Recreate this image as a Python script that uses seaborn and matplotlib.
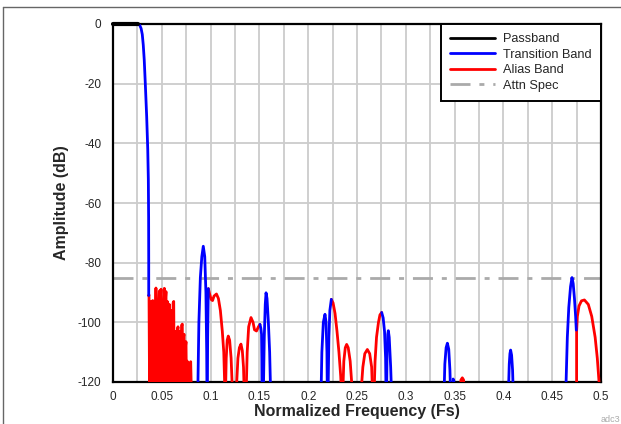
import numpy as np
import pandas as pd
import seaborn as sns
import matplotlib
matplotlib.use("Agg")
import matplotlib.pyplot as plt
from matplotlib.lines import Line2D

# ---------------- data ----------------
x_ticks = [0, 0.05, 0.1, 0.15, 0.2, 0.25, 0.3, 0.35, 0.4, 0.45, 0.5]
x_tick_labels = ["0", "0.05", "0.1", "0.15", "0.2", "0.25", "0.3", "0.35", "0.4", "0.45", "0.5"]
y_ticks = [0, -20, -40, -60, -80, -100, -120]
y_tick_labels = ["0", "-20", "-40", "-60", "-80", "-100", "-120"]
attn_spec_db = -85

# Passband
pass_f = [0.0, 0.026]
pass_db = [0.0, 0.0]

# Transition band segments
trans1_f = [0.026, 0.0275, 0.0288, 0.0300, 0.0310, 0.0320, 0.0331, 0.0345, 0.0356, 0.0362, 0.0365, 0.0366, 0.0366]
trans1_db = [0.0, -0.5, -1.5, -3.5, -7, -12, -20, -31, -42, -52, -65, -80, -91]
trans2_f = [0.0868, 0.0880, 0.0895, 0.0910, 0.0925, 0.0940, 0.0952, 0.0960, 0.0963]
trans2_db = [-125, -100, -85, -78, -74.5, -78, -90, -110, -125]
trans3_f = [0.0966, 0.0970, 0.0974, 0.0977]
trans3_db = [-125, -105, -95, -88.7]
trans4_f = [0.1506, 0.1515, 0.1522, 0.1525, 0.1527]
trans4_db = [-100.7, -102, -104, -112, -125]
trans5_f = [0.1540, 0.1550, 0.1560, 0.1568, 0.1578, 0.1592, 0.1605, 0.1616]
trans5_db = [-125, -105, -94, -90.1, -92, -100, -110, -125]
trans6_f = [0.2131, 0.2140, 0.2155, 0.2172, 0.2183, 0.2192, 0.2196]
trans6_db = [-125, -110, -100, -97.3, -100, -110, -125]
trans7_f = [0.2203, 0.2212, 0.2222, 0.2237]
trans7_db = [-125, -105, -96, -92.3]
trans8_f = [0.2753, 0.2768, 0.2782, 0.2793, 0.2798]
trans8_db = [-96.7, -98.5, -103, -112, -125]
trans9_f = [0.2803, 0.2808, 0.2815, 0.2821, 0.2830, 0.2845, 0.2855]
trans9_db = [-125, -110, -104, -102.8, -105, -115, -125]
trans10_f = [0.3391, 0.3400, 0.3413, 0.3426, 0.3440, 0.3452, 0.3460]
trans10_db = [-125, -114, -108.5, -107, -109, -116, -125]
trans11_f = [0.3478, 0.3485, 0.3492, 0.3497]
trans11_db = [-125, -119, -119.5, -125]
trans12_f = [0.4050, 0.4060, 0.4067, 0.4074, 0.4084, 0.4094, 0.4102]
trans12_db = [-125, -114, -110.5, -109.3, -111, -116, -125]
trans13_f = [0.4638, 0.4655, 0.4670, 0.4688, 0.4703, 0.4715, 0.4728, 0.4740, 0.4747]
trans13_db = [-125, -105, -95, -88, -85, -87, -92, -98, -102.6]

# Alias band segments
alias1_f = [0.0366, 0.0369, 0.0375, 0.0380, 0.0386, 0.0392, 0.0400, 0.0407, 0.0413, 0.0420,
            0.0427, 0.0432, 0.0440, 0.0446, 0.0452, 0.0456, 0.0461, 0.0468, 0.0475, 0.0480,
            0.0487, 0.0492, 0.0498, 0.0505, 0.0510, 0.0517, 0.0526, 0.0532, 0.0538, 0.0543,
            0.0550, 0.0555, 0.0560, 0.0566, 0.0572, 0.0577, 0.0583, 0.0590, 0.0596, 0.0603,
            0.0609, 0.0616, 0.0622, 0.0628, 0.0635, 0.0641, 0.0648, 0.0654, 0.0660, 0.0666,
            0.0672, 0.0678, 0.0684, 0.0690, 0.0696, 0.0703, 0.0710, 0.0716, 0.0722, 0.0728,
            0.0733, 0.0740, 0.0748, 0.0754, 0.0760, 0.0766, 0.0772, 0.0778, 0.0790, 0.0796,
            0.0804]
alias1_db = [-91, -90.8, -125, -100, -93.1, -125, -96, -92.7, -125, -100,
             -94, -125, -88.5, -125, -100, -96, -125, -95, -89.5, -125,
             -91, -88.9, -125, -100, -125, -95, -88.6, -125, -92, -89.7,
             -125, -95, -93.1, -125, -97, -94, -125, -99, -125, -96,
             -125, -93.5, -93, -125, -103, -125, -104, -125, -103, -101.5,
             -125, -104, -125, -103, -125, -101, -100.6, -125, -105, -104,
             -125, -109, -106.5, -125, -113, -125, -116, -125, -115, -113.2,
             -125]
alias2_f = [0.0977, 0.0990, 0.1005, 0.1020, 0.1035, 0.1060, 0.1080, 0.1100, 0.1120, 0.1135, 0.1148]
alias2_db = [-88.7, -90.5, -92.3, -92.7, -91.2, -90.5, -92, -96, -103, -110, -125]
alias3_f = [0.1152, 0.1160, 0.1170, 0.1181, 0.1195, 0.1210, 0.1226]
alias3_db = [-125, -112, -106, -104.6, -106, -112, -125]
alias4_f = [0.1260, 0.1280, 0.1295, 0.1311, 0.1325, 0.1337, 0.1346]
alias4_db = [-125, -112, -108.5, -107.3, -109.5, -115, -125]
alias5_f = [0.1363, 0.1375, 0.1390, 0.1414, 0.1435, 0.1450, 0.1470, 0.1490, 0.1506]
alias5_db = [-125, -110, -101.5, -98.4, -100, -102.5, -102.9, -101.5, -100.7]
alias6_f = [0.2237, 0.2255, 0.2275, 0.2295, 0.2315, 0.2333, 0.2343]
alias6_db = [-92.3, -93.5, -97, -103, -110, -118, -125]
alias7_f = [0.2353, 0.2365, 0.2380, 0.2394, 0.2410, 0.2430, 0.2456]
alias7_db = [-125, -113, -108.5, -107.4, -108.5, -113, -125]
alias8_f = [0.2538, 0.2560, 0.2580, 0.2606, 0.2630, 0.2650, 0.2661]
alias8_db = [-125, -115, -110.5, -109.1, -110.5, -115, -125]
alias9_f = [0.2674, 0.2685, 0.2700, 0.2720, 0.2735, 0.2753]
alias9_db = [-125, -113, -105, -100, -97.5, -96.7]
alias10_f = [0.3552, 0.3565, 0.3579, 0.3592, 0.3600]
alias10_db = [-125, -119.3, -118.6, -119.3, -125]
alias11_f = [0.4750, 0.4750, 0.4758, 0.4775, 0.4800, 0.4830, 0.4870, 0.4905, 0.4940, 0.4962, 0.4980, 0.4992]
alias11_db = [-125, -103, -98, -94.5, -92.8, -92.5, -94, -98, -105, -112, -120, -125]

transition_segments = [(trans1_f, trans1_db), (trans2_f, trans2_db), (trans3_f, trans3_db),
                       (trans4_f, trans4_db), (trans5_f, trans5_db), (trans6_f, trans6_db),
                       (trans7_f, trans7_db), (trans8_f, trans8_db), (trans9_f, trans9_db),
                       (trans10_f, trans10_db), (trans11_f, trans11_db), (trans12_f, trans12_db),
                       (trans13_f, trans13_db)]
alias_segments = [(alias1_f, alias1_db), (alias2_f, alias2_db), (alias3_f, alias3_db),
                  (alias4_f, alias4_db), (alias5_f, alias5_db), (alias6_f, alias6_db),
                  (alias7_f, alias7_db), (alias8_f, alias8_db), (alias9_f, alias9_db),
                  (alias10_f, alias10_db), (alias11_f, alias11_db)]

# ---------------- styling ----------------
sns.set_style("white")
plt.rcParams["font.family"] = ["Liberation Sans", "DejaVu Sans"]

W, H = 621, 424
fig = plt.figure(figsize=(W / 100, H / 100), dpi=100)
ax = fig.add_axes([113 / W, 1 - 382 / H, (601 - 113) / W, (382 - 24) / H])

LW = 2.0
BLUE = "#0000ff"
RED = "#ff0000"
GRAY = "#aaaaaa"
DASH = (7.2, 3.2, 1.8, 3.2)

# attenuation spec line
spec_df = pd.DataFrame({"f": [0.0, 0.5], "db": [attn_spec_db, attn_spec_db]})
sns.lineplot(data=spec_df, x="f", y="db", ax=ax, color=GRAY, lw=LW,
             sort=False, estimator=None, zorder=2)
ax.lines[-1].set_dashes(DASH)

for f, d in alias_segments:
    sns.lineplot(x=f, y=d, ax=ax, color=RED, lw=LW, sort=False, estimator=None, zorder=3)
for f, d in transition_segments:
    sns.lineplot(x=f, y=d, ax=ax, color=BLUE, lw=LW, sort=False, estimator=None, zorder=4)
sns.lineplot(x=pass_f, y=pass_db, ax=ax, color="black", lw=3, sort=False, estimator=None,
             zorder=5, clip_on=False)

ax.set_xlim(0, 0.5)
ax.set_ylim(-120, 0)
ax.set_xticks(x_ticks)
ax.set_xticklabels(x_tick_labels)
ax.set_xticks(np.arange(0.025, 0.5, 0.05), minor=True)
ax.set_yticks(y_ticks)
ax.set_yticklabels(y_tick_labels)

ax.set_axisbelow(True)
ax.grid(True, which="both", axis="x", color="#cccccc", lw=1.3)
ax.grid(True, which="major", axis="y", color="#cccccc", lw=1.3)

for s in ax.spines.values():
    s.set_color("black")
    s.set_linewidth(1.6)
    s.set_visible(True)

ax.tick_params(axis="both", which="both", length=0)
ax.tick_params(axis="x", labelsize=8.5, pad=6.5)
ax.tick_params(axis="y", labelsize=8.5, pad=8.5)

ax.set_xlabel("Normalized Frequency (Fs)", fontsize=11.5, fontweight="bold", labelpad=1)
ax.set_ylabel("Amplitude (dB)", fontsize=11.5, fontweight="bold", labelpad=6)

handles = [Line2D([], [], color="black", lw=LW),
           Line2D([], [], color=BLUE, lw=LW),
           Line2D([], [], color=RED, lw=LW),
           Line2D([], [], color=GRAY, lw=LW, dashes=DASH)]
labels = ["Passband", "Transition Band", "Alias Band", "Attn Spec"]
leg = ax.legend(handles, labels, loc="upper right", fontsize=9.2, frameon=True,
                fancybox=False, borderaxespad=0, handlelength=3.5, handletextpad=0.65,
                labelspacing=0.28, borderpad=0.72)
leg.get_frame().set_edgecolor("black")
leg.get_frame().set_linewidth(1.4)
leg.get_frame().set_facecolor("white")
leg.get_frame().set_alpha(1)

# figure frame lines (left and top)
fig.add_artist(Line2D([3.3 / W, 3.3 / W], [0, 1 - 6.7 / H], transform=fig.transFigure,
                      color="#666666", lw=1.0))
fig.add_artist(Line2D([3.3 / W, 1], [1 - 6.7 / H, 1 - 6.7 / H], transform=fig.transFigure,
                      color="#666666", lw=1.0))

fig.text(620 / W, 1 - 420 / H, "adc3", fontsize=6.5, color="#aaaaaa", ha="right", va="center")

fig.savefig("out.png", dpi=100)
